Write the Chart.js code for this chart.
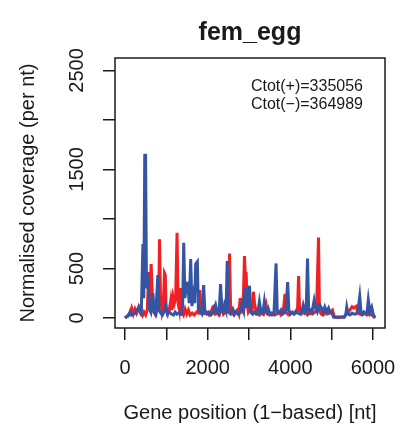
<!DOCTYPE html>
<html>
<head>
<meta charset="utf-8">
<script src="https://cdn.jsdelivr.net/npm/chart.js@4.4.0/dist/chart.umd.min.js"></script>
<style>
  html, body { margin: 0; padding: 0; background: #fff; }
  canvas { display: block; }
</style>
</head>
<body>
<canvas id="cov" width="407" height="434"></canvas>
<script>
// coverage on the + strand, [position, value]
const plusCoverage = [
  [0,0],[30,10],[80,30],[130,60],[160,100],[200,40],[240,90],[280,50],[330,110],[380,40],
  [420,20],[460,60],[500,30],[540,80],[575,465],[600,120],[633,544],[665,200],[700,60],[740,30],
  [780,90],[815,150],[835,796],[860,200],[895,60],[925,120],[955,453],[975,433],[995,100],[1035,40],
  [1075,90],[1108,181],[1135,80],[1163,212],[1195,150],[1225,200],[1260,860],[1285,150],[1315,80],[1349,302],
  [1375,60],[1415,30],[1455,90],[1495,40],[1535,80],[1575,30],[1625,50],[1675,30],[1735,60],[1775,50],
  [1807,282],[1835,80],[1875,40],[1935,50],[1975,60],[2035,30],[2075,50],[2127,114],[2151,121],[2185,40],
  [2235,50],[2275,30],[2315,60],[2353,131],[2385,40],[2435,60],[2495,90],[2530,652],[2555,100],[2595,50],
  [2635,30],[2675,60],[2715,80],[2755,40],[2787,201],[2815,80],[2855,60],[2891,625],[2915,400],[2931,467],
  [2955,150],[2985,60],[3025,90],[3075,60],[3108,265],[3135,150],[3165,80],[3205,40],[3255,30],[3305,60],
  [3355,40],[3414,131],[3445,40],[3495,30],[3555,50],[3615,30],[3675,40],[3735,60],[3775,30],[3825,50],
  [3872,242],[3895,60],[3935,40],[3975,30],[4015,50],[4048,60],[4095,40],[4145,60],[4175,80],[4201,423],
  [4225,80],[4265,40],[4305,50],[4355,60],[4415,30],[4475,50],[4535,40],[4595,60],[4635,80],[4683,813],
  [4705,100],[4745,40],[4795,30],[4845,60],[4895,40],[4945,50],[5020,80],[5065,10],[5175,5],[5305,10],
  [5355,40],[5405,60],[5455,90],[5495,114],[5535,100],[5575,114],[5600,120],[5625,60],[5675,40],[5735,30],
  [5795,50],[5855,30],[5915,40],[5975,30],[6025,10],[6050,0]
];

// coverage on the - strand, [position, value]
const minusCoverage = [
  [0,0],[25,10],[75,20],[120,60],[155,30],[205,40],[255,50],[295,80],[335,110],[365,80],
  [395,60],[433,746],[455,200],[478,1643],[498,1643],[520,300],[553,453],[585,100],[625,60],[675,252],
  [705,60],[745,40],[795,433],[825,80],[865,50],[905,30],[945,60],[987,130],[1025,40],[1075,60],
  [1125,40],[1175,30],[1215,60],[1255,40],[1305,50],[1355,40],[1395,120],[1421,759],[1450,200],[1486,353],
  [1518,350],[1555,150],[1590,595],[1620,120],[1655,232],[1685,150],[1710,544],[1751,568],[1775,100],[1815,60],
  [1855,40],[1903,333],[1935,50],[1975,40],[2025,60],[2075,30],[2125,50],[2192,131],[2225,60],[2275,40],
  [2313,343],[2345,80],[2375,60],[2409,131],[2445,80],[2474,575],[2505,60],[2555,40],[2610,90],[2655,40],
  [2695,60],[2735,40],[2785,50],[2835,150],[2875,80],[2915,302],[2955,100],[3012,326],[3045,60],[3085,40],
  [3135,60],[3175,40],[3215,50],[3253,164],[3295,50],[3335,40],[3373,164],[3405,60],[3445,50],[3470,90],
  [3505,40],[3555,30],[3605,40],[3655,551],[3685,60],[3725,50],[3775,80],[3815,40],[3855,50],[3895,80],
  [3936,363],[3965,80],[4005,40],[4055,50],[4095,40],[4137,70],[4175,50],[4235,40],[4275,60],[4313,131],
  [4355,60],[4385,80],[4417,601],[4445,60],[4485,80],[4525,60],[4578,181],[4615,100],[4655,60],[4715,131],
  [4755,100],[4795,60],[4835,110],[4875,60],[4925,100],[4965,50],[5012,50],[5045,10],[5175,10],[5305,10],
  [5345,40],[5366,108],[5395,40],[5445,30],[5495,50],[5535,40],[5595,40],[5635,60],[5681,215],[5715,50],
  [5755,40],[5783,60],[5825,40],[5855,50],[5888,181],[5925,60],[5970,108],[6005,40],[6050,0]
];

const xTicks = [0, 1000, 2000, 3000, 4000, 5000, 6000];
const xTickLabels = ["0", "", "2000", "", "4000", "", "6000"];
const yTicks = [0, 500, 1000, 1500, 2000, 2500];
const yTickLabels = ["0", "500", "", "1500", "", "2500"];
const totals = ["Ctot(+)=335056", "Ctot(\u2212)=364989"];

const FONT = "'Liberation Sans', Arial, Helvetica, sans-serif";
const INK = "#1a1a1a";

// R-like decorations: box, title, tick labels (y rotated), totals text
const rStyle = {
  id: "rStyle",
  afterDraw(chart) {
    const { ctx, chartArea: a, scales } = chart;
    ctx.save();
    ctx.strokeStyle = INK;
    ctx.lineWidth = 1.5;
    ctx.strokeRect(a.left, a.top, a.right - a.left, a.bottom - a.top);

    ctx.fillStyle = INK;
    ctx.textAlign = "center";
    ctx.textBaseline = "middle";

    ctx.font = "bold 25px " + FONT;
    ctx.fillText("fem_egg", (a.left + a.right) / 2, 33);

    ctx.font = "20px " + FONT;
    xTicks.forEach((v, i) => {
      if (!xTickLabels[i]) return;
      ctx.fillText(xTickLabels[i], scales.x.getPixelForValue(v), 368);
    });
    yTicks.forEach((v, i) => {
      if (!yTickLabels[i]) return;
      const y = scales.y.getPixelForValue(v);
      ctx.save();
      ctx.translate(77, y);
      ctx.rotate(-Math.PI / 2);
      ctx.fillText(yTickLabels[i], 0, 0);
      ctx.restore();
    });

    ctx.font = "16px " + FONT;
    ctx.textAlign = "right";
    totals.forEach((t, i) => ctx.fillText(t, 363, 87 + i * 18));
    ctx.restore();
  },
};

new Chart(document.getElementById("cov"), {
  type: "line",
  data: {
    datasets: [
      {
        label: "plus",
        data: plusCoverage.map((p) => ({ x: p[0], y: p[1] })),
        borderColor: "rgb(238,34,36)",
        borderWidth: 3,
        pointRadius: 0,
        order: 1,
      },
      {
        label: "minus",
        data: minusCoverage.map((p) => ({ x: p[0], y: p[1] })),
        borderColor: "rgb(52,84,164)",
        borderWidth: 3,
        pointRadius: 0,
        order: 0,
      },
    ],
  },
  options: {
    responsive: false,
    animation: false,
    layout: { padding: { left: 0, right: 22, top: 58, bottom: 0 } },
    plugins: {
      legend: { display: false },
      tooltip: { enabled: false },
      title: { display: false },
    },
    scales: {
      x: {
        type: "linear",
        min: -242,
        max: 6292,
        afterFit: (s) => { s.height = 106; },
        afterBuildTicks: (s) => { s.ticks = xTicks.map((v) => ({ value: v })); },
        border: { display: false },
        grid: { drawOnChartArea: false, drawTicks: true, tickLength: 12, color: INK, lineWidth: 1.5 },
        ticks: { display: false },
        title: {
          display: true,
          text: "Gene position (1\u2212based) [nt]",
          color: INK,
          font: { family: FONT, size: 20 },
          padding: { top: 0, bottom: 9 },
        },
      },
      y: {
        type: "linear",
        min: -101,
        max: 2625,
        afterFit: (s) => { s.width = 115; },
        afterBuildTicks: (s) => { s.ticks = yTicks.map((v) => ({ value: v })); },
        border: { display: false },
        grid: { drawOnChartArea: false, drawTicks: true, tickLength: 12, color: INK, lineWidth: 1.5 },
        ticks: { display: false },
        title: {
          display: true,
          text: "Normalised coverage (per nt)",
          color: INK,
          font: { family: FONT, size: 20 },
          padding: { top: 16, bottom: 0 },
        },
      },
    },
  },
  plugins: [rStyle],
});
</script>
</body>
</html>
